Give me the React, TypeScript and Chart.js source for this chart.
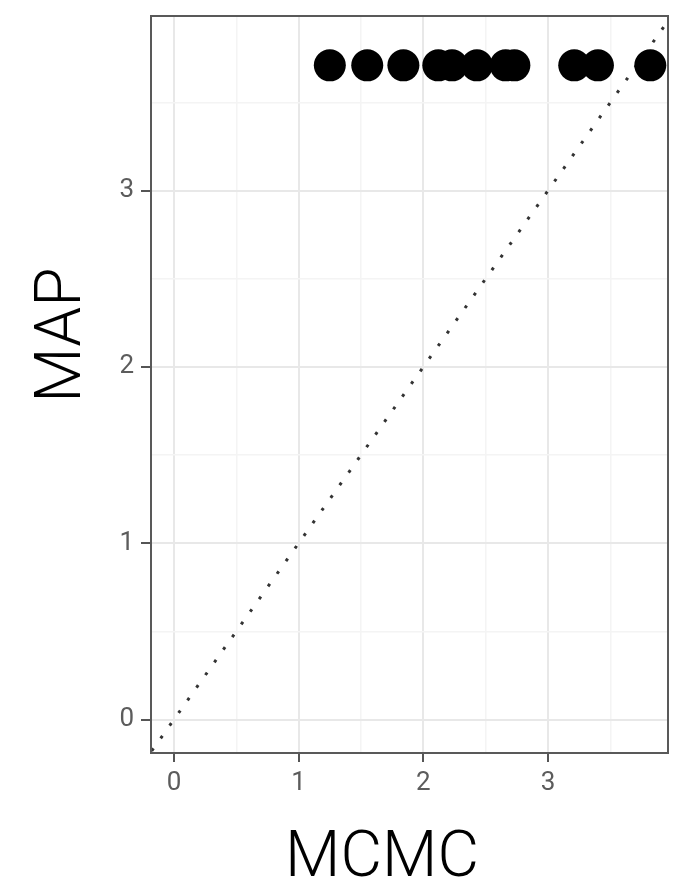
import React, { useEffect, useRef } from "react";
import { Chart, registerables } from "chart.js";

Chart.register(...registerables);

// Data
const mcmcValues = [1.25, 1.55, 1.84, 2.12, 2.23, 2.43, 2.66, 2.73, 3.21, 3.40, 3.82];
const mapValues = [3.71, 3.71, 3.71, 3.71, 3.71, 3.71, 3.71, 3.71, 3.71, 3.71, 3.71];
const refLineX = [-0.25, 4.1];
const refLineY = [-0.25, 4.1];
const xTickValues = [0, 0.5, 1, 1.5, 2, 2.5, 3, 3.5];
const yTickValues = [0, 0.5, 1, 1.5, 2, 2.5, 3, 3.5];
const xRange = [-0.184, 3.962];
const yRange = [-0.19, 3.99];
const xTitle = "MCMC";
const yTitle = "MAP";

const isMajor = (v: number) => Math.abs(v - Math.round(v)) < 1e-9;

export default function App() {
  const ref = useRef<HTMLCanvasElement | null>(null);
  useEffect(() => {
    if (!ref.current) return;
    const frame = {
      id: "frame",
      afterDatasetsDraw(chart: any) {
        const { ctx, chartArea } = chart;
        ctx.save();
        ctx.strokeStyle = "#595959";
        ctx.lineWidth = 2;
        ctx.strokeRect(chartArea.left, chartArea.top, chartArea.right - chartArea.left, chartArea.bottom - chartArea.top);
        ctx.restore();
      },
      afterDraw(chart: any) {
        const { ctx } = chart;
        ctx.save();
        ctx.fillStyle = "#000";
        ctx.font = "300 64px Roboto, 'Liberation Sans', sans-serif";
        ctx.textAlign = "center";
        ctx.textBaseline = "alphabetic";
        ctx.fillText(xTitle, 382, 876);
        ctx.translate(80, 335);
        ctx.rotate(-Math.PI / 2);
        ctx.fillText(yTitle, 0, 0);
        ctx.restore();
      },
    };
    const chart = new Chart(ref.current, {
      type: "scatter",
      data: {
        datasets: [
          {
            type: "line",
            data: refLineX.map((x, i) => ({ x, y: refLineY[i] })),
            borderColor: "#333333",
            borderWidth: 3,
            borderDash: [3, 12.5],
            pointRadius: 0,
            fill: false,
            order: 2,
          } as any,
          {
            type: "scatter",
            data: mcmcValues.map((x, i) => ({ x, y: mapValues[i] })),
            backgroundColor: "#000000",
            borderColor: "#000000",
            borderWidth: 0,
            pointRadius: 16,
            pointHoverRadius: 16,
            order: 1,
          },
        ],
      },
      options: {
        animation: false,
        responsive: false,
        devicePixelRatio: 1,
        layout: { padding: { left: 0, top: 10, right: 22, bottom: 0 } },
        plugins: { legend: { display: false }, tooltip: { enabled: false } },
        scales: {
          x: {
            type: "linear",
            min: xRange[0],
            max: xRange[1],
            afterBuildTicks: (s: any) => {
              s.ticks = xTickValues.map((v) => ({ value: v }));
            },
            afterFit: (s: any) => {
              s.height = 127;
              s.paddingLeft = 0;
              s.paddingRight = 0;
            },
            border: { display: false },
            grid: {
              color: (c: any) => (isMajor(c.tick?.value ?? 0) ? "#e8e8e8" : "#f4f4f4"),
              lineWidth: (c: any) => (isMajor(c.tick?.value ?? 0) ? 2 : 1.5),
              tickColor: (c: any) => (isMajor(c.tick?.value ?? 0) ? "#555555" : "rgba(0,0,0,0)"),
              tickLength: 9,
              tickWidth: 2,
            },
            ticks: {
              autoSkip: false,
              maxRotation: 0,
              padding: 6,
              color: "#5c5c5c",
              font: { family: "Roboto, 'Liberation Sans', sans-serif", size: 26, weight: "400" as any },
              callback: (v: any) => (isMajor(Number(v)) ? String(Math.round(Number(v))) : ""),
            },
          },
          y: {
            type: "linear",
            min: yRange[0],
            max: yRange[1],
            afterBuildTicks: (s: any) => {
              s.ticks = yTickValues.map((v) => ({ value: v }));
            },
            afterFit: (s: any) => {
              s.width = 151;
              s.paddingTop = 0;
              s.paddingBottom = 0;
            },
            border: { display: false },
            grid: {
              color: (c: any) => (isMajor(c.tick?.value ?? 0) ? "#e8e8e8" : "#f4f4f4"),
              lineWidth: (c: any) => (isMajor(c.tick?.value ?? 0) ? 2 : 1.5),
              tickColor: (c: any) => (isMajor(c.tick?.value ?? 0) ? "#555555" : "rgba(0,0,0,0)"),
              tickLength: 10,
              tickWidth: 2,
            },
            ticks: {
              autoSkip: false,
              padding: 7,
              color: "#5c5c5c",
              font: { family: "Roboto, 'Liberation Sans', sans-serif", size: 26, weight: "400" as any, lineHeight: 0.6 },
              callback: (v: any) => (isMajor(Number(v)) ? String(Math.round(Number(v))) : ""),
            },
          },
        },
      },
      plugins: [frame],
    });
    return () => chart.destroy();
  }, []);
  return (
    <div style={{ position: "absolute", left: 0, top: 0, width: 690, height: 880, background: "#fff" }}>
      <canvas ref={ref} width={690} height={880} style={{ width: 690, height: 880 }} />
    </div>
  );
}
